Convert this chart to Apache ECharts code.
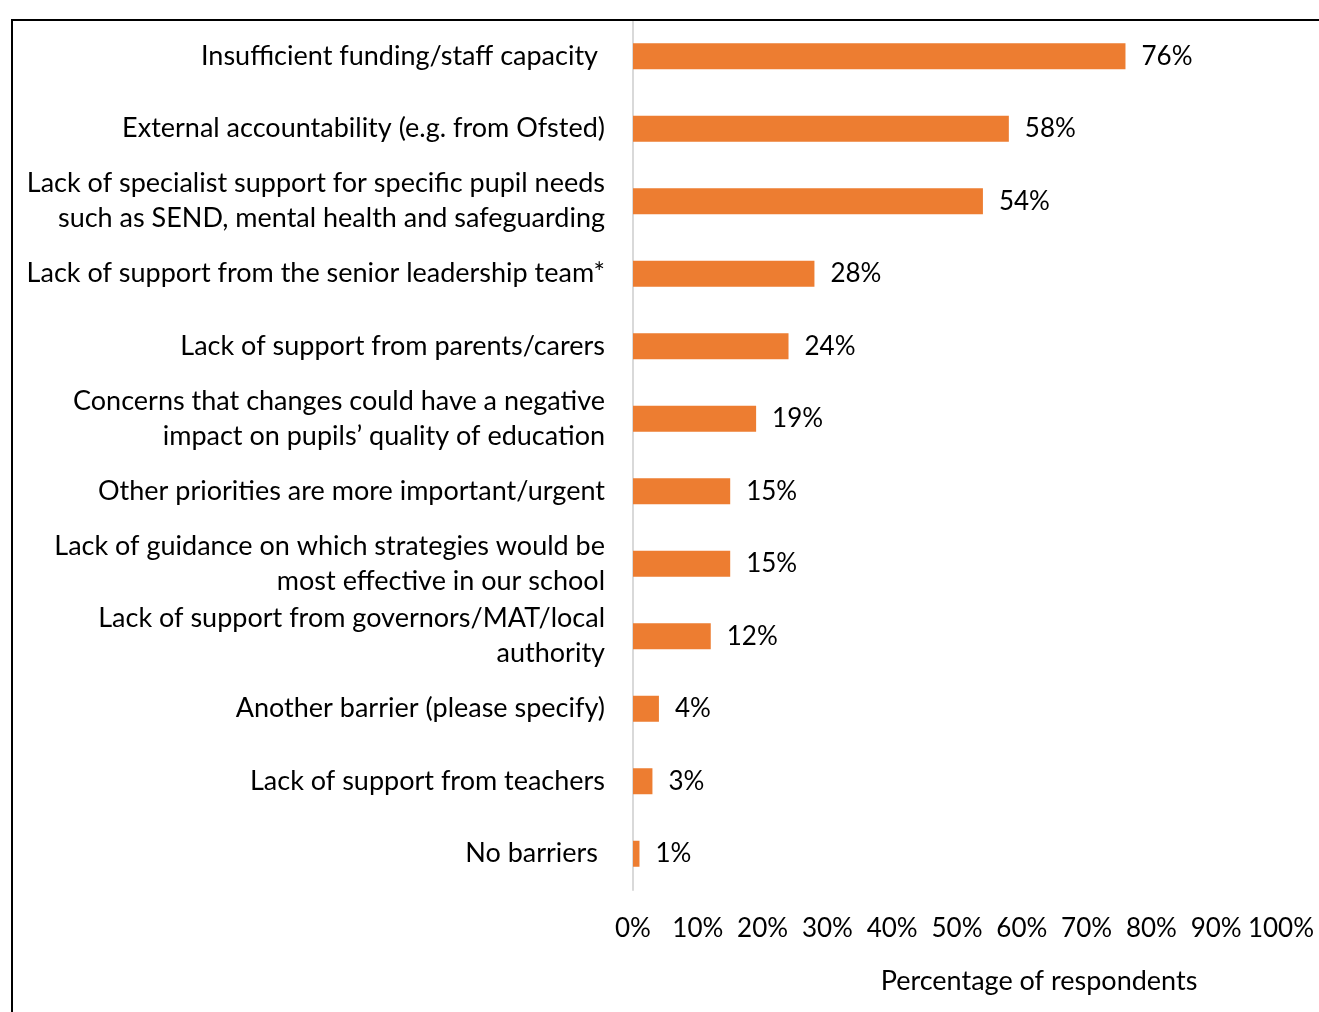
<!DOCTYPE html>
<html>
<head>
<meta charset="utf-8">
<script src="https://cdn.jsdelivr.net/npm/echarts@6/dist/echarts.min.js"></script>
<style>
  html, body { margin: 0; padding: 0; background: #fff; }
  #chart { width: 1319px; height: 1012px; }
  #frame { position: absolute; left: 11px; top: 19px; width: 1400px; height: 1100px;
           border-left: 2px solid #000; border-top: 2px solid #000; pointer-events: none; }
</style>
</head>
<body>
<div id="chart"></div>
<div id="frame"></div>
<script>
// Barriers reported, top to bottom
const barriers = [
  'Insufficient funding/staff capacity',
  'External accountability (e.g. from Ofsted)',
  'Lack of specialist support for specific pupil needs\nsuch as SEND, mental health and safeguarding',
  'Lack of support from the senior leadership team*',
  'Lack of support from parents/carers',
  'Concerns that changes could have a negative\nimpact on pupils\u2019 quality of education',
  'Other priorities are more important/urgent',
  'Lack of guidance on which strategies would be\nmost effective in our school',
  'Lack of support from governors/MAT/local\nauthority',
  'Another barrier (please specify)',
  'Lack of support from teachers',
  'No barriers'
];
// Percentage of respondents
const shares = [76, 58, 54, 28, 24, 19, 15, 15, 12, 4, 3, 1];
const tickValues = [0, 10, 20, 30, 40, 50, 60, 70, 80, 90, 100];
// Labels that sit slightly further from the axis
const insetLabels = [0, 11];

const FONT = 'Lato, "Open Sans", sans-serif';
const chart = echarts.init(document.getElementById('chart'));
chart.setOption({
  animation: false,
  grid: { left: 633, right: 38, top: 20, bottom: 122, containLabel: false },
  xAxis: {
    type: 'value', min: tickValues[0], max: tickValues[tickValues.length - 1], interval: 10,
    splitLine: { show: false },
    axisLine: { show: false }, axisTick: { show: false },
    axisLabel: { formatter: '{value}%', color: '#000', fontSize: 26, fontFamily: FONT, margin: 26 },
    name: 'Percentage of respondents', nameLocation: 'middle', nameGap: 78,
    nameTextStyle: { color: '#000', fontSize: 27, fontFamily: FONT, padding: [0, 0, 0, 164] }
  },
  yAxis: {
    type: 'category', data: barriers, inverse: true,
    axisLine: { show: true, lineStyle: { color: '#d9d9d9', width: 2 } },
    axisTick: { show: false },
    axisLabel: {
      color: '#000', fontSize: 27, fontFamily: FONT, margin: 28, lineHeight: 35, align: 'right',
      formatter: (value, index) => insetLabels.includes(index) ? '{s|' + value + '}' : value,
      rich: { s: { color: '#000', fontSize: 27, fontFamily: FONT, padding: [0, 7, 0, 0] } }
    }
  },
  series: [{
    type: 'bar', data: shares, barWidth: 26, itemStyle: { color: '#ED7D31' },
    label: { show: true, position: 'right', distance: 16, formatter: '{c}%',
             color: '#000', fontSize: 26, fontFamily: FONT }
  }]
});
</script>
</body>
</html>
